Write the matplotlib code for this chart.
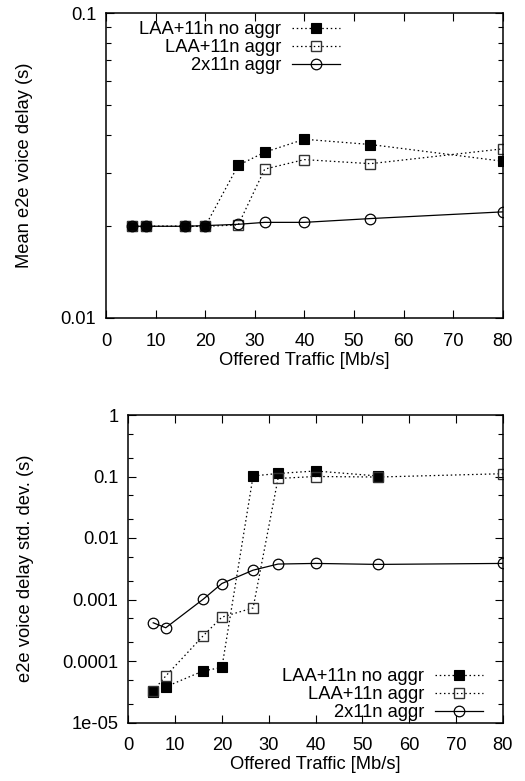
import matplotlib
matplotlib.use("Agg")
import matplotlib.pyplot as plt
from matplotlib.ticker import LogLocator, NullFormatter, FixedLocator, FixedFormatter

plt.rcParams['font.family'] = ['Liberation Sans', 'DejaVu Sans']

# Offered traffic [Mb/s]
x = [5.33, 8, 16, 20, 26.67, 32, 40, 53.33, 80]

# Mean e2e voice delay (s)
mean_noaggr = [0.0200, 0.0200, 0.0200, 0.0200, 0.0317, 0.0350, 0.0386, 0.0371, 0.0327]
mean_aggr   = [0.0200, 0.0200, 0.0200, 0.0200, 0.0202, 0.0308, 0.0331, 0.0321, 0.0359]
mean_2x11n  = [0.0200, 0.0200, 0.0200, 0.0201, 0.0203, 0.0206, 0.0206, 0.0212, 0.0223]

# e2e voice delay std. dev. (s)
x_std_noaggr = [5.33, 8, 16, 20, 26.67, 32, 40, 53.33]
std_noaggr = [3.15e-5, 3.8e-5, 6.9e-5, 7.85e-5, 0.102, 0.112, 0.123, 0.102]
std_aggr   = [3.3e-5, 5.7e-5, 2.57e-4, 5.17e-4, 7.3e-4, 0.093, 0.100, 0.098, 0.111]
std_2x11n  = [4.18e-4, 3.47e-4, 1.01e-3, 1.82e-3, 3.0e-3, 3.77e-3, 3.86e-3, 3.72e-3, 3.86e-3]

labels = ["LAA+11n no aggr", "LAA+11n aggr", "2x11n aggr"]
xticks = [0, 10, 20, 30, 40, 50, 60, 70, 80]

FS = 13.2
W, H = 525, 781
fig = plt.figure(figsize=(W / 100, H / 100), dpi=100)

def axes_px(l, t, r, b):
    return fig.add_axes([l / W, 1 - b / H, (r - l) / W, (b - t) / H])

ax1 = axes_px(106, 13.3, 502.7, 318)
ax2 = axes_px(128.3, 415, 502.7, 722.5)

dot = (0, (1.2, 2.2))
sty = [
    dict(color='black', ls=dot, lw=0.9, marker='s', ms=7.5, mfc='black', mec='black', mew=0.8),
    dict(color='black', ls=dot, lw=0.9, marker='s', ms=7.2, mfc='none', mec='#333333', mew=1.0),
    dict(color='black', ls='-', lw=0.9, marker='o', ms=7.6, mfc='none', mec='black', mew=0.9),
]

ax1.plot(x, mean_noaggr, label=labels[0], **sty[0])
ax1.plot(x, mean_aggr, label=labels[1], **sty[1])
ax1.plot(x, mean_2x11n, label=labels[2], **sty[2])

ax2.plot(x_std_noaggr, std_noaggr, label=labels[0], **sty[0])
ax2.plot(x, std_aggr, label=labels[1], **sty[1])
ax2.plot(x, std_2x11n, label=labels[2], **sty[2])

for ax in (ax1, ax2):
    ax.set_yscale('log')
    ax.set_xlim(0, 80)
    ax.set_xticks(xticks)
    ax.set_xticklabels([str(v) for v in xticks])
    ax.tick_params(which='both', direction='in', top=True, right=True,
                   labelsize=FS, width=0.8)
    ax.tick_params(which='major', length=6)
    ax.tick_params(which='minor', length=3.5)
    ax.tick_params(axis='y', which='major', pad=7)
    ax.tick_params(axis='x', which='major', pad=10.5)
    for s in ax.spines.values():
        s.set_linewidth(1.1)
    ax.set_xlabel('Offered Traffic [Mb/s]', fontsize=FS, labelpad=1.5)

ax1.set_ylim(0.01, 0.1)
ax1.yaxis.set_major_locator(FixedLocator([0.01, 0.1]))
ax1.yaxis.set_major_formatter(FixedFormatter(['0.01', '0.1']))
ax1.yaxis.set_minor_locator(LogLocator(base=10, subs=[2, 3, 4, 5, 6, 7, 8, 9]))
ax1.yaxis.set_minor_formatter(NullFormatter())
ax1.set_ylabel('Mean e2e voice delay (s)', fontsize=FS)
ax1.yaxis.set_label_coords((33 - 106) / 396.7, 0.5)

ax2.set_ylim(1e-5, 1)
yt = [1e-5, 1e-4, 1e-3, 1e-2, 1e-1, 1]
ax2.yaxis.set_major_locator(FixedLocator(yt))
ax2.yaxis.set_major_formatter(FixedFormatter(['1e-05', '0.0001', '0.001', '0.01', '0.1', '1']))
ax2.yaxis.set_minor_locator(LogLocator(base=10, subs=[2, 5]))
ax2.yaxis.set_minor_formatter(NullFormatter())
ax2.set_ylabel('e2e voice delay std. dev. (s)', fontsize=FS)
ax2.yaxis.set_label_coords((34 - 128.3) / 374.4, 0.5)

leg_kw = dict(frameon=False, markerfirst=False, fontsize=FS, handlelength=2.6,
              handletextpad=0.6, labelspacing=0.05, borderaxespad=0, borderpad=0)
ax1.legend(loc='upper right', bbox_to_anchor=((340 - 106) / 396.7, (318 - 21.5) / 304.7), **leg_kw)
ax2.legend(loc='lower right', bbox_to_anchor=((483 - 128.3) / 374.4, (722.5 - 721) / 307.5), **leg_kw)

fig.savefig('out.png', dpi=100)
